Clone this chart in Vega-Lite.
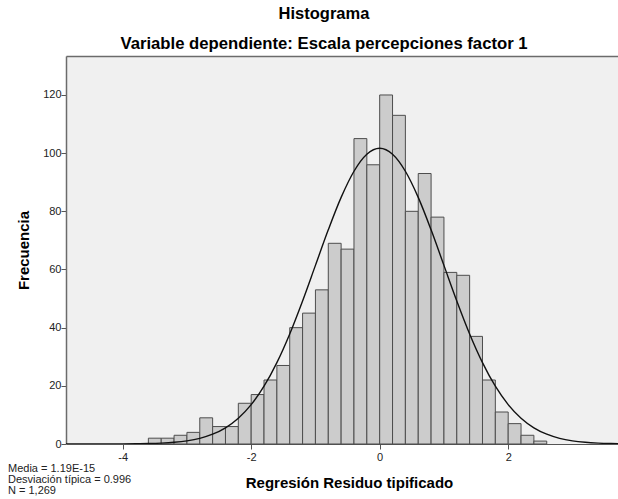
{
  "$schema": "https://vega.github.io/schema/vega-lite/v6.json",
  "width": 552,
  "height": 388,
  "autosize": {"type": "none"},
  "padding": {"left": 66, "top": 56, "right": 0, "bottom": 55},
  "background": "white",
  "config": {
    "view": {"fill": "#f0f0f0", "stroke": null},
    "font": "Liberation Sans"
  },
  "title": {
    "text": "Histograma",
    "subtitle": "Variable dependiente: Escala percepciones factor 1",
    "fontSize": 16.5,
    "fontWeight": "bold",
    "color": "black",
    "subtitleFontSize": 16.7,
    "subtitleFontWeight": "bold",
    "subtitleColor": "black",
    "subtitlePadding": 14,
    "anchor": "middle",
    "frame": "group",
    "dx": -18,
    "offset": 3
  },
  "datasets": {
    "bins": [
      {"bin_start": -3.6, "bin_end": -3.4, "count": 2},
      {"bin_start": -3.4, "bin_end": -3.2, "count": 2},
      {"bin_start": -3.2, "bin_end": -3.0, "count": 3},
      {"bin_start": -3.0, "bin_end": -2.8, "count": 4},
      {"bin_start": -2.8, "bin_end": -2.6, "count": 9},
      {"bin_start": -2.6, "bin_end": -2.4, "count": 6},
      {"bin_start": -2.4, "bin_end": -2.2, "count": 6},
      {"bin_start": -2.2, "bin_end": -2.0, "count": 14},
      {"bin_start": -2.0, "bin_end": -1.8, "count": 17},
      {"bin_start": -1.8, "bin_end": -1.6, "count": 22},
      {"bin_start": -1.6, "bin_end": -1.4, "count": 27},
      {"bin_start": -1.4, "bin_end": -1.2, "count": 40},
      {"bin_start": -1.2, "bin_end": -1.0, "count": 45},
      {"bin_start": -1.0, "bin_end": -0.8, "count": 53},
      {"bin_start": -0.8, "bin_end": -0.6, "count": 69},
      {"bin_start": -0.6, "bin_end": -0.4, "count": 67},
      {"bin_start": -0.4, "bin_end": -0.2, "count": 105},
      {"bin_start": -0.2, "bin_end": 0.0, "count": 96},
      {"bin_start": 0.0, "bin_end": 0.2, "count": 120},
      {"bin_start": 0.2, "bin_end": 0.4, "count": 113},
      {"bin_start": 0.4, "bin_end": 0.6, "count": 80},
      {"bin_start": 0.6, "bin_end": 0.8, "count": 93},
      {"bin_start": 0.8, "bin_end": 1.0, "count": 78},
      {"bin_start": 1.0, "bin_end": 1.2, "count": 59},
      {"bin_start": 1.2, "bin_end": 1.4, "count": 58},
      {"bin_start": 1.4, "bin_end": 1.6, "count": 37},
      {"bin_start": 1.6, "bin_end": 1.8, "count": 22},
      {"bin_start": 1.8, "bin_end": 2.0, "count": 11},
      {"bin_start": 2.0, "bin_end": 2.2, "count": 7},
      {"bin_start": 2.2, "bin_end": 2.4, "count": 3},
      {"bin_start": 2.4, "bin_end": 2.6, "count": 1}
    ],
    "curve": [
      {"x": -5.0, "y": 0.0003},
      {"x": -4.8, "y": 0.0009},
      {"x": -4.6, "y": 0.0024},
      {"x": -4.4, "y": 0.006},
      {"x": -4.2, "y": 0.014},
      {"x": -4.0, "y": 0.032},
      {"x": -3.8, "y": 0.070},
      {"x": -3.6, "y": 0.148},
      {"x": -3.4, "y": 0.300},
      {"x": -3.2, "y": 0.583},
      {"x": -3.0, "y": 1.089},
      {"x": -2.8, "y": 1.954},
      {"x": -2.6, "y": 3.368},
      {"x": -2.4, "y": 5.576},
      {"x": -2.2, "y": 8.866},
      {"x": -2.0, "y": 13.54},
      {"x": -1.8, "y": 19.86},
      {"x": -1.6, "y": 27.98},
      {"x": -1.4, "y": 37.85},
      {"x": -1.2, "y": 49.20},
      {"x": -1.0, "y": 61.41},
      {"x": -0.8, "y": 73.63},
      {"x": -0.6, "y": 84.79},
      {"x": -0.4, "y": 93.78},
      {"x": -0.2, "y": 99.63},
      {"x": 0.0, "y": 101.66},
      {"x": 0.2, "y": 99.63},
      {"x": 0.4, "y": 93.78},
      {"x": 0.6, "y": 84.79},
      {"x": 0.8, "y": 73.63},
      {"x": 1.0, "y": 61.41},
      {"x": 1.2, "y": 49.20},
      {"x": 1.4, "y": 37.85},
      {"x": 1.6, "y": 27.98},
      {"x": 1.8, "y": 19.86},
      {"x": 2.0, "y": 13.54},
      {"x": 2.2, "y": 8.866},
      {"x": 2.4, "y": 5.576},
      {"x": 2.6, "y": 3.368},
      {"x": 2.8, "y": 1.954},
      {"x": 3.0, "y": 1.089},
      {"x": 3.2, "y": 0.583},
      {"x": 3.4, "y": 0.300},
      {"x": 3.6, "y": 0.148},
      {"x": 3.8, "y": 0.070},
      {"x": 4.0, "y": 0.032}
    ],
    "stats": [
      {"stats": "Media = 1.19E-15\nDesviación típica = 0.996\nN = 1,269"}
    ]
  },
  "resolve": {"axis": {"x": "independent"}},
  "layer": [
    {
      "data": {"name": "bins"},
      "mark": {"type": "bar", "fill": "#cccccc", "stroke": "#4d4d4d", "strokeWidth": 1},
      "encoding": {
        "x": {
          "field": "bin_start",
          "type": "quantitative",
          "scale": {"domain": [-4.882, 3.709], "nice": false, "zero": false},
          "axis": {
            "values": [-4, -2, 0, 2],
            "labelExpr": "datum.value < 0 ? '-' + abs(datum.value) : '' + datum.value",
            "title": "Regresión Residuo tipificado",
            "titleFontSize": 15,
            "titleFontWeight": "bold",
            "titleColor": "black",
            "titlePadding": 13,
            "titleX": 283,
            "labelFontSize": 11,
            "labelColor": "#222222",
            "labelPadding": 2,
            "tickSize": 5,
            "tickColor": "#555555",
            "domainColor": "#555555",
            "domainWidth": 1,
            "grid": false
          }
        },
        "x2": {"field": "bin_end"},
        "y": {
          "field": "count",
          "type": "quantitative",
          "scale": {"domain": [0, 133.4], "nice": false},
          "axis": {
            "values": [0, 20, 40, 60, 80, 100, 120],
            "title": "Frecuencia",
            "titleFontSize": 15,
            "titleFontWeight": "bold",
            "titleColor": "black",
            "titlePadding": 11,
            "labelFontSize": 11,
            "labelColor": "#222222",
            "labelPadding": 0,
            "tickSize": 5,
            "tickColor": "#555555",
            "domainColor": "#6b6b6b",
            "domainWidth": 1.5,
            "grid": false
          }
        },
        "y2": {"datum": 0}
      }
    },
    {
      "data": {"name": "curve"},
      "mark": {"type": "line", "color": "#111111", "strokeWidth": 1.4, "interpolate": "monotone", "clip": true},
      "encoding": {
        "x": {
          "field": "x",
          "type": "quantitative",
          "axis": {
            "orient": "top",
            "labels": false,
            "ticks": false,
            "title": null,
            "grid": false,
            "domainColor": "#6b6b6b",
            "domainWidth": 1.5
          }
        },
        "y": {"field": "y", "type": "quantitative", "title": "Frecuencia"}
      }
    },
    {
      "data": {"name": "stats"},
      "mark": {"type": "text", "align": "left", "baseline": "top", "fontSize": 11, "lineHeight": 11, "lineBreak": "\n", "color": "#222222", "clip": false},
      "encoding": {
        "x": {"datum": -5.785, "type": "quantitative", "axis": null},
        "y": {"datum": -6.5, "type": "quantitative", "title": "Frecuencia"},
        "text": {"field": "stats"}
      }
    }
  ]
}
